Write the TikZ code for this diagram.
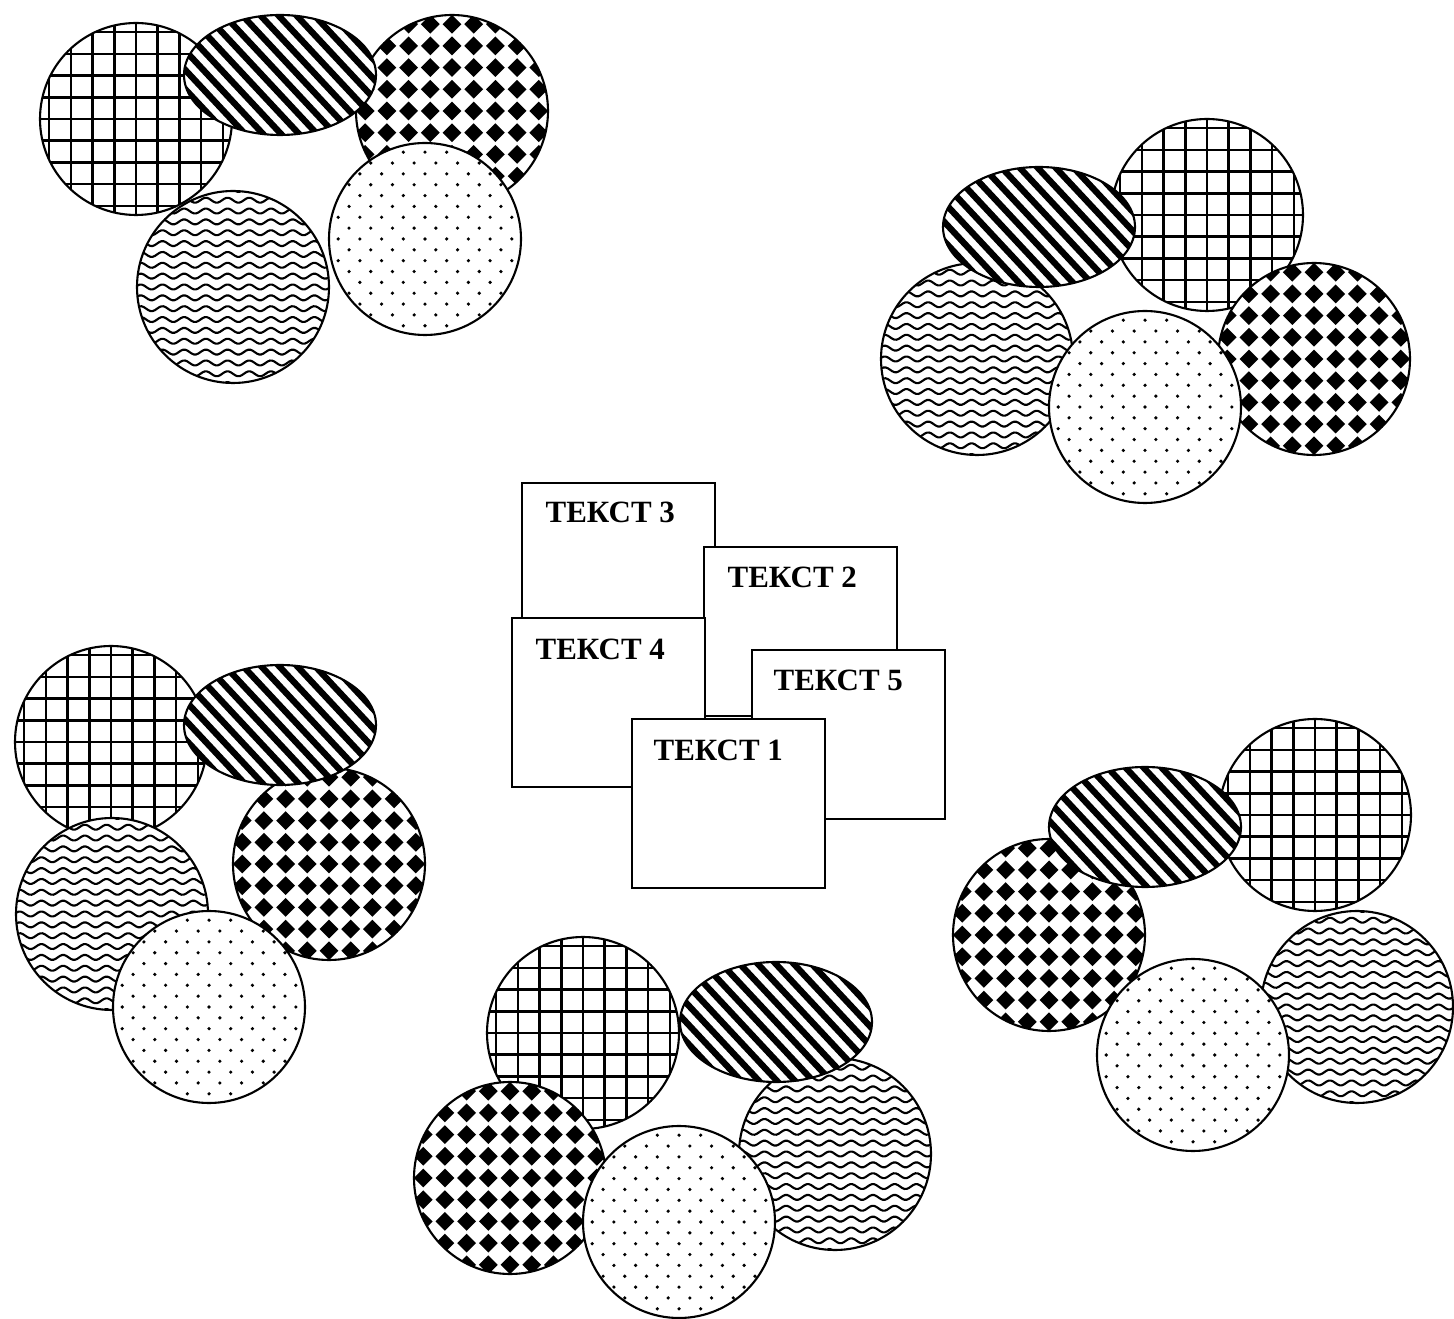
\documentclass[tikz,border=0pt]{standalone}
\usepackage{fontspec}
\setmainfont{Liberation Serif}
\usetikzlibrary{positioning}

% filled shapes, centre given in pixels
\newcommand{\gridball}[2]{%
  \begin{scope}
    \clip (#1,#2) circle[radius=96];
    \fill[white] (#1,#2) circle[radius=96];
    \foreach \k in {-5,...,5} {
      \draw[gridline] ({#1+\k*21.7},{#2-100}) -- ++(0,200);
      \draw[gridline] ({#1-100},{#2+\k*21.7}) -- ++(200,0);
    }
  \end{scope}
  \draw[rim] (#1,#2) circle[radius=96];}

\newcommand{\waveball}[2]{%
  \begin{scope}
    \clip (#1,#2) circle[radius=96];
    \fill[white] (#1,#2) circle[radius=96];
    \foreach \k in {-9,...,9} {
      \draw[waveline] plot[domain=-100:100, samples=93, smooth]
        ({#1+\x},{#2+\k*10.85+2.5*sin(\x/21.7*360)});
    }
  \end{scope}
  \draw[rim] (#1,#2) circle[radius=96];}

\newcommand{\diamondball}[2]{%
  \begin{scope}
    \clip (#1,#2) circle[radius=96];
    \fill[white] (#1,#2) circle[radius=96];
    \foreach \i in {-5,...,5} {
      \foreach \j in {-5,...,5} {
        \fill ({#1+\i*21.7},{#2+\j*21.7}) +(-9.4,0) -- +(0,-9.4) -- +(9.4,0) -- +(0,9.4) -- cycle;
      }
    }
  \end{scope}
  \draw[rim] (#1,#2) circle[radius=96];}

\newcommand{\dotball}[2]{%
  \begin{scope}
    \clip (#1,#2) circle[radius=96];
    \fill[white] (#1,#2) circle[radius=96];
    \foreach \i in {-5,...,5} {
      \foreach \j in {-5,...,5} {
        \fill ({#1+\i*21.7},{#2+\j*21.7}) circle[radius=1.8];
        \fill ({#1+\i*21.7+10.85},{#2+\j*21.7+10.85}) circle[radius=1.8];
      }
    }
  \end{scope}
  \draw[rim] (#1,#2) circle[radius=96];}

\newcommand{\stripeoval}[2]{%
  \begin{scope}
    \clip (#1,#2) ellipse[x radius=96, y radius=60];
    \fill[white] (#1,#2) ellipse[x radius=96, y radius=60];
    \foreach \k in {-10,...,10} {
      \draw[stripeline] ({#1+\k*18-0.682*120},{#2-0.731*120}) -- ++(0.682*240,0.731*240);
    }
  \end{scope}
  \draw[rim] (#1,#2) ellipse[x radius=96, y radius=60];}

\begin{document}
\begin{tikzpicture}[
    x=0.01cm, y=-0.01cm,
    rim/.style={line width=0.6pt},
    gridline/.style={line width=0.7pt},
    waveline/.style={line width=0.6pt},
    stripeline/.style={line width=1.8pt},
    card/.style={rectangle, draw, line width=0.6pt, fill=white, inner sep=0pt,
                 minimum width=1.93cm, minimum height=1.69cm, anchor=north west},
    cardtext/.style={font=\fontsize{8.8}{10}\selectfont\bfseries, inner sep=0pt, anchor=base west}
]

\fill[white] (0,0) rectangle (1454,1319);
\useasboundingbox (0,0) rectangle (1454,1319);

% Top left group
\gridball{136}{119}
\waveball{233}{287}
\diamondball{452}{111}
\stripeoval{280}{75}
\dotball{425}{239}

% Top right group
\gridball{1207}{215}
\waveball{977}{359}
\diamondball{1314}{359}
\stripeoval{1039}{227}
\dotball{1145}{407}

% Left group
\gridball{111}{742}
\waveball{112}{914}
\diamondball{329}{864}
\stripeoval{280}{725}
\dotball{209}{1007}

% Bottom group
\gridball{583}{1033}
\waveball{835}{1154}
\diamondball{510}{1178}
\stripeoval{776}{1022}
\dotball{679}{1222}

% Right group
\gridball{1315}{815}
\waveball{1357}{1007}
\diamondball{1049}{935}
\stripeoval{1145}{827}
\dotball{1193}{1055}

% Text cards
\node[card] (t3) at (521,482) {};
\node[cardtext] at ([shift={(24,41)}]t3.north west) {ТЕКСТ 3};
\node[card] (t2) at (703,546) {};
\node[cardtext] at ([shift={(24,42)}]t2.north west) {ТЕКСТ 2};
\node[card] (t4) at (511,617) {};
\node[cardtext] at ([shift={(24,43)}]t4.north west) {ТЕКСТ 4};
\node[card] (t5) at (751,649) {};
\node[cardtext] at ([shift={(22,42)}]t5.north west) {ТЕКСТ 5};
\node[card] (t1) at (631,718) {};
\node[cardtext] at ([shift={(22,43)}]t1.north west) {ТЕКСТ 1};

\end{tikzpicture}
\end{document}
